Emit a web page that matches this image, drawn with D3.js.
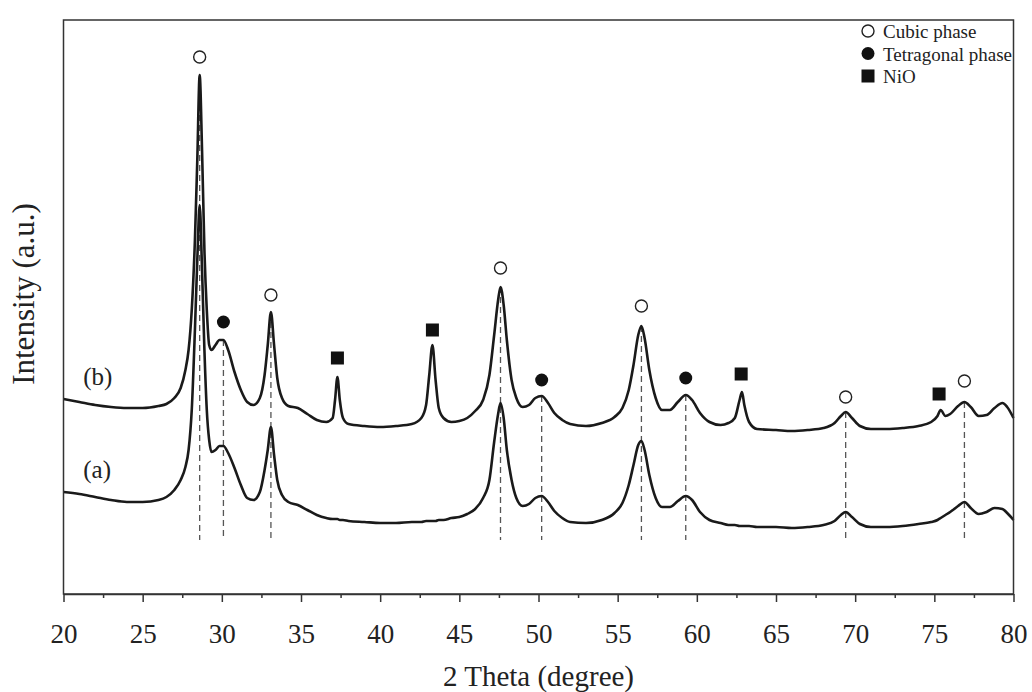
<!DOCTYPE html>
<html>
<head>
<meta charset="utf-8">
<script src="https://cdn.jsdelivr.net/npm/d3@7"></script>
<style>
  html, body { margin: 0; padding: 0; background: #fff; }
  svg { display: block; font-family: "Liberation Serif", "Times New Roman", serif; }
</style>
</head>
<body>
<svg id="xrd"></svg>
<script>
// 2 theta grid (degree) shared by both patterns
const thetaValues = [
  20.0, 21.0, 22.0, 23.0, 24.0, 25.0, 26.0, 26.5, 27.0, 27.4, 27.7, 27.9, 28.1, 28.3, 28.45, 28.6,
  28.75, 28.9, 29.05, 29.2, 29.35, 29.6, 29.85, 30.1, 30.4, 30.8, 31.2, 31.6, 32.0, 32.4, 32.7, 32.9,
  33.1, 33.3, 33.5, 33.8, 34.2, 34.8, 35.4, 36.0, 36.6, 37.0, 37.15, 37.3, 37.45, 37.65, 38.0, 39.0,
  40.0, 41.0, 42.0, 42.6, 42.9, 43.1, 43.3, 43.5, 43.7, 44.0, 44.5, 45.0, 45.5, 46.0, 46.5, 46.9,
  47.2, 47.45, 47.6, 47.8, 48.0, 48.3, 48.6, 49.0, 49.4, 49.8, 50.2, 50.6, 51.0, 51.5, 52.0, 53.0,
  54.0, 54.8, 55.3, 55.7, 56.0, 56.3, 56.5, 56.7, 57.0, 57.4, 57.8, 58.3, 58.8, 59.3, 59.7, 60.2,
  60.8, 61.5, 62.0, 62.4, 62.7, 62.85, 63.0, 63.3, 63.8, 65.0, 66.0, 67.0, 68.0, 68.7, 69.1, 69.4,
  69.8, 70.3, 71.0, 72.0, 73.0, 74.0, 74.8, 75.2, 75.4, 75.7, 76.0, 76.5, 76.9, 77.3, 77.8, 78.3,
  78.8, 79.3, 79.6, 80.0
];

// pattern (b), shifted up
const intensityB = [
  195, 192, 189, 187, 186, 186, 188, 190, 196, 206, 224, 244, 284, 354, 434, 519,
  444, 344, 284, 249, 244, 249, 254, 254, 244, 222, 204, 192, 189, 196, 219, 249,
  282, 249, 216, 196, 188, 186, 180, 174, 172, 176, 194, 217, 194, 176, 170, 168,
  167, 168, 170, 176, 189, 219, 249, 214, 186, 176, 172, 173, 176, 183, 194, 219,
  259, 294, 307, 289, 254, 214, 196, 187, 189, 196, 198, 191, 181, 174, 170, 168,
  171, 177, 186, 204, 229, 259, 268, 256, 224, 196, 184, 184, 192, 199, 194, 181,
  172, 169, 171, 176, 194, 202, 189, 172, 165, 164, 163, 164, 166, 171, 178, 182,
  176, 168, 165, 165, 166, 168, 172, 178, 184, 178, 180, 188, 192, 187, 178, 179,
  186, 191, 187, 176
];

// pattern (a)
const intensityA = [
  102, 100, 97, 94, 92, 92, 94, 97, 104, 114, 127, 144, 184, 264, 334, 389,
  324, 244, 184, 154, 142, 144, 148, 148, 141, 126, 109, 96, 94, 102, 124, 144,
  167, 139, 114, 99, 92, 89, 84, 79, 76, 75, 75, 75, 74, 74, 73, 72,
  71, 71, 72, 72, 73, 73, 73, 73, 74, 74, 76, 77, 80, 85, 96, 114,
  152, 180, 191, 176, 144, 114, 96, 88, 90, 96, 98, 92, 83, 76, 72, 71,
  74, 81, 91, 109, 129, 149, 153, 144, 119, 96, 87, 87, 93, 98, 94, 82,
  74, 71, 69, 69, 68, 68, 68, 68, 67, 67, 66, 67, 69, 73, 79, 82,
  77, 70, 67, 67, 68, 70, 72, 74, 76, 79, 82, 88, 92, 86, 80, 82,
  86, 85, 81, 74
];

// reflection markers: 2 theta and marker height
const cubicTheta = [28.6, 33.1, 47.6, 56.5, 69.4, 76.9];
const cubicLevel = [537, 299, 326, 288, 197, 213];
const tetragonalTheta = [30.1, 50.2, 59.3];
const tetragonalLevel = [272, 214, 216];
const nioTheta = [37.3, 43.3, 62.8, 75.3];
const nioLevel = [236, 264, 220, 200];

// dashed guide lines (pattern b down through pattern a)
const guideTheta = [28.6, 30.1, 33.1, 47.6, 50.2, 56.5, 59.3, 69.4, 76.9];
const guideBottom = 54;

const legendLabels = ["Cubic phase", "Tetragonal phase", "NiO"];
const seriesLabels = ["(b)", "(a)"];

const width = 1032, height = 692;
const margin = { top: 20, right: 18.5, bottom: 98, left: 63.5 };

const svg = d3.select("#xrd")
  .attr("width", width)
  .attr("height", height);

const x = d3.scaleLinear().domain([20, 80]).range([margin.left, width - margin.right]);
const y = d3.scaleLinear().domain([0, 574]).range([height - margin.bottom, margin.top]);

const line = d3.line()
  .x(d => x(d[0]))
  .y(d => y(d[1]))
  .curve(d3.curveMonotoneX);

const seriesA = thetaValues.map((t, i) => [t, intensityA[i]]);
const seriesB = thetaValues.map((t, i) => [t, intensityB[i]]);

// guide lines
svg.append("g")
  .selectAll("line")
  .data(guideTheta)
  .join("line")
  .attr("x1", d => x(d))
  .attr("x2", d => x(d))
  .attr("y1", d => y(intensityB[thetaValues.indexOf(d)]))
  .attr("y2", y(guideBottom))
  .attr("stroke", "#555")
  .attr("stroke-width", 1.3)
  .attr("stroke-dasharray", "6,4");

// patterns
svg.append("g")
  .selectAll("path")
  .data([seriesB, seriesA])
  .join("path")
  .attr("d", line)
  .attr("fill", "none")
  .attr("stroke", "#1a1a1a")
  .attr("stroke-width", 2.6)
  .attr("stroke-linejoin", "round");

// frame
svg.append("rect")
  .attr("x", x(20))
  .attr("y", y(574))
  .attr("width", x(80) - x(20))
  .attr("height", y(0) - y(574))
  .attr("fill", "none")
  .attr("stroke", "#333")
  .attr("stroke-width", 1.5);

// x axis
const xAxis = svg.append("g")
  .attr("transform", `translate(0,${y(0)})`)
  .call(d3.axisBottom(x).tickValues(d3.range(20, 81, 5)).tickSize(8).tickPadding(22).tickSizeOuter(0));
xAxis.select(".domain").attr("stroke", "#333").attr("stroke-width", 1.5);
xAxis.selectAll(".tick line").attr("stroke", "#333").attr("stroke-width", 1.5);
xAxis.selectAll(".tick text")
  .attr("font-family", "Liberation Serif, serif")
  .attr("font-size", 27)
  .attr("fill", "#222");

const minorAxis = svg.append("g")
  .attr("transform", `translate(0,${y(0)})`)
  .call(d3.axisBottom(x).tickValues(d3.range(22.5, 80, 5)).tickSize(4).tickFormat(""));
minorAxis.select(".domain").remove();
minorAxis.selectAll(".tick line").attr("stroke", "#333").attr("stroke-width", 1.5);

// axis titles
svg.append("text")
  .attr("x", (x(20) + x(80)) / 2)
  .attr("y", 686)
  .attr("text-anchor", "middle")
  .attr("font-size", 29)
  .attr("fill", "#222")
  .text("2 Theta (degree)");

svg.append("text")
  .attr("transform", `translate(34,${(y(0) + y(574)) / 2 - 13}) rotate(-90)`)
  .attr("text-anchor", "middle")
  .attr("font-size", 31)
  .attr("fill", "#222")
  .text("Intensity (a.u.)");

// series labels
svg.append("g")
  .selectAll("text")
  .data(seriesLabels)
  .join("text")
  .attr("x", x(21.25))
  .attr("y", (d, i) => y(i === 0 ? intensityB[0] : intensityA[0]) - 14)
  .attr("font-size", 25)
  .attr("fill", "#222")
  .text(d => d);

// markers
const markers = svg.append("g");
markers.selectAll("circle.cubic")
  .data(cubicTheta)
  .join("circle")
  .attr("class", "cubic")
  .attr("cx", d => x(d))
  .attr("cy", (d, i) => y(cubicLevel[i]))
  .attr("r", 6)
  .attr("fill", "#fff")
  .attr("stroke", "#222")
  .attr("stroke-width", 1.4);

markers.selectAll("circle.tetra")
  .data(tetragonalTheta)
  .join("circle")
  .attr("class", "tetra")
  .attr("cx", d => x(d))
  .attr("cy", (d, i) => y(tetragonalLevel[i]))
  .attr("r", 6.5)
  .attr("fill", "#111");

markers.selectAll("rect.nio")
  .data(nioTheta)
  .join("rect")
  .attr("class", "nio")
  .attr("x", d => x(d) - 6.5)
  .attr("y", (d, i) => y(nioLevel[i]) - 6.5)
  .attr("width", 13)
  .attr("height", 13)
  .attr("fill", "#111");

// legend
const legend = svg.append("g").attr("transform", "translate(868,31)");
const rows = legend.selectAll("g")
  .data(legendLabels)
  .join("g")
  .attr("transform", (d, i) => `translate(0,${i * 22.5})`);
rows.filter((d, i) => i === 0).append("circle")
  .attr("r", 6).attr("fill", "#fff").attr("stroke", "#222").attr("stroke-width", 1.4);
rows.filter((d, i) => i === 1).append("circle")
  .attr("r", 6.5).attr("fill", "#111");
rows.filter((d, i) => i === 2).append("rect")
  .attr("x", -6.5).attr("y", -6.5).attr("width", 13).attr("height", 13).attr("fill", "#111");
rows.append("text")
  .attr("x", 15)
  .attr("y", 7)
  .attr("font-size", 19)
  .attr("fill", "#222")
  .text(d => d);
</script>
</body>
</html>
